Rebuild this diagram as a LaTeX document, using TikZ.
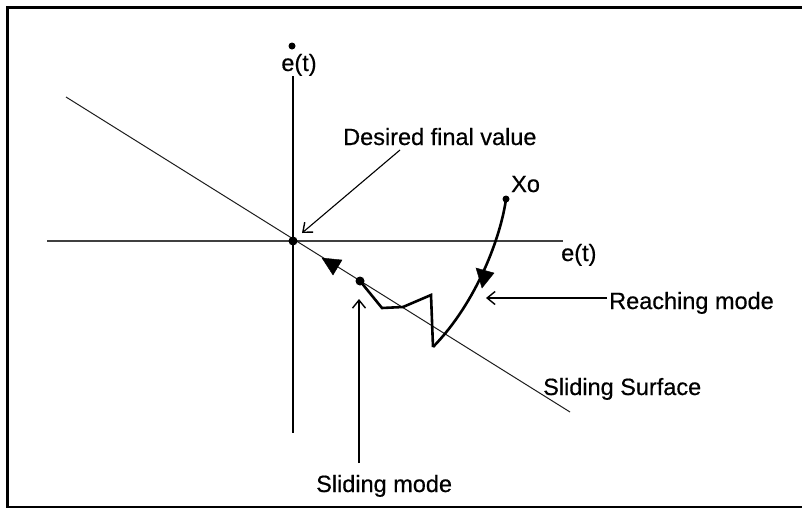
\documentclass[tikz,border=0pt]{standalone}
\usepackage{fontspec}
\setmainfont{Liberation Sans}
\newfontfamily\lblfont{Liberation Sans}[FakeBold=0.5]
\usetikzlibrary{arrows.meta}
\begin{document}
\begin{tikzpicture}[x=1pt,y=-1pt,
  lbl/.style={inner sep=0pt,font=\lblfont\fontsize{23.5}{28}\selectfont},
  dotmark/.style={fill=black,circle,inner sep=0pt,minimum size=#1},
  barb/.style={-{Straight Barb[length=8pt,width=13pt,line width=1.4pt]}},
  thickline/.style={line width=2.6pt},
  tri/.style={fill=black,draw=black,line join=miter}]
\useasboundingbox (0,0) rectangle (802,509);
\draw[line width=2.5pt] (804,7.5) -- (7.5,7.5) -- (7.5,507) -- (804,507);
% axes
\coordinate (vtop) at (293,76);
\coordinate (vbot) at (293,433);
\draw[thickline] (vtop) -- (vbot);
\coordinate (hl) at (47,241);
\coordinate (hr) at (563,241);
\draw[line width=1.2pt,black!75] (hl) -- (hr);
\node[dotmark=7pt] (topdot) at (292,46) {};
\node[lbl,anchor=base] (etop) at (299,71) {e(t)};
\node[lbl,anchor=base west] (eright) at (561,261) {e(t)};
% sliding surface
\coordinate (s1) at (66,97);
\coordinate (s2) at (570,412);
\draw[line width=1pt,black!90] (s1) -- (s2);
\node[dotmark=9pt] (origin) at (293,241) {};
\node[dotmark=9pt] (sdot) at (360,281) {};
\fill[tri] (322,258) -- (342,260) -- (333,275) -- cycle;
% trajectory
\node[dotmark=7pt] (xo) at (506,199) {};
\node[lbl,anchor=base west] (xolbl) at (511,192) {Xo};
\coordinate (low) at (433,347);
\draw[thickline] (xo.center) .. controls (501,236) and (477,302) .. (low);
\fill[tri] (482,288) -- (476,268) -- (494,273) -- cycle;
\coordinate (z1) at (431,295);
\coordinate (z2) at (403,307);
\coordinate (z3) at (382,308);
\draw[thickline,line join=miter] (low) -- (z1) -- (z2) -- (z3) -- (sdot.center);
% labels and arrows
\node[lbl,anchor=base west] (reach) at (609,309) {Reaching mode};
\coordinate (reachtip) at (486,298);
\draw[barb,line width=1.5pt] (607,298) -- (reachtip);
\node[lbl,anchor=base west] (surf) at (543,395) {Sliding Surface};
\node[lbl,anchor=base west] (smode) at (316,492) {Sliding mode};
\coordinate (smstart) at (359,463);
\coordinate (smtip) at (359,299);
\draw[barb,line width=2pt] (smstart) -- (smtip);
\node[lbl,anchor=base west] (desired) at (343,145) {Desired final value};
\coordinate (dstart) at (400,150);
\coordinate (dtip) at (302,233);
\draw[barb,line width=1.1pt] (dstart) -- (dtip);
\end{tikzpicture}
\end{document}
